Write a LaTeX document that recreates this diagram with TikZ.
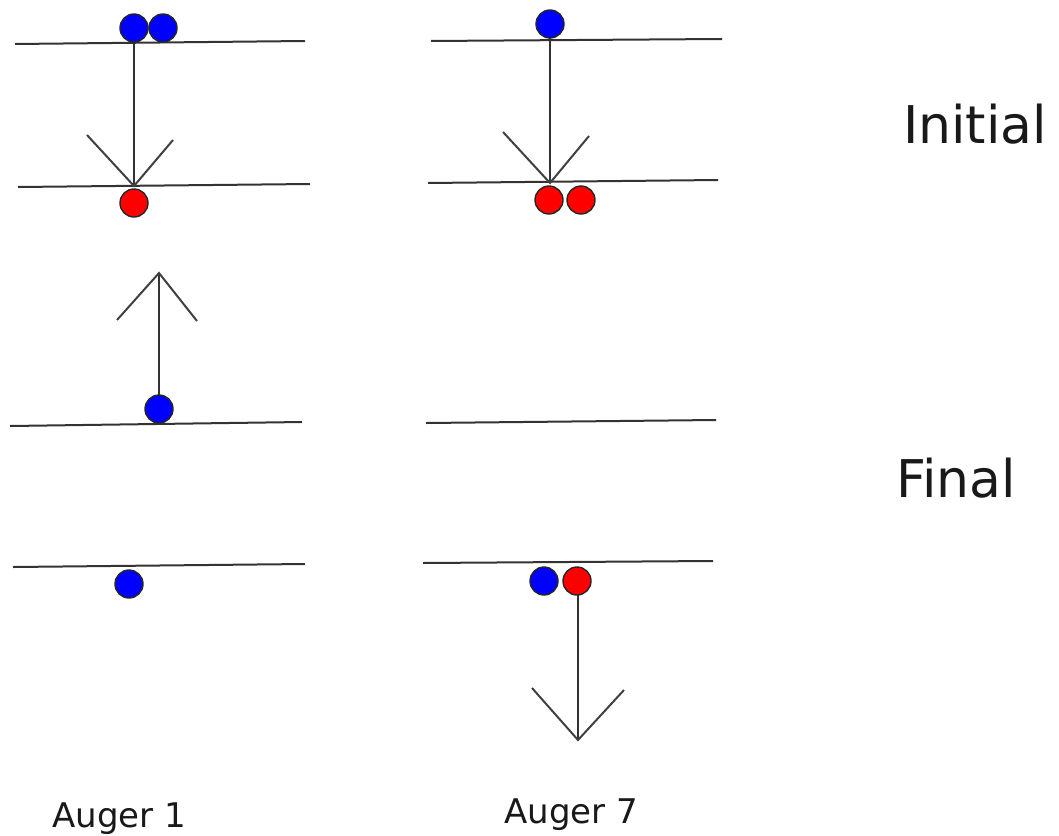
\documentclass[tikz,border=0pt]{standalone}
\usepackage{fontspec}
\setmainfont{DejaVu Sans}
\begin{document}
\begin{tikzpicture}[x=1pt,y=-1pt,
  level/.style={line width=2pt, draw=black!80},
  shaft/.style={line width=2pt, draw=black!80},
  barb/.style={line width=2pt, draw=black!75},
  particle/.style={circle, draw=black!85, line width=1.4pt, minimum size=28pt, inner sep=0pt},
  electron/.style={particle, fill=blue},
  hole/.style={particle, fill=red},
  stage/.style={anchor=base west, inner sep=0pt, font=\fontsize{52}{52}\selectfont, text=black!90},
  caption/.style={anchor=base west, inner sep=0pt, font=\fontsize{34}{34}\selectfont, text=black!90}]
\useasboundingbox (0,0) rectangle (1059,835);

% energy levels, Auger 1
\draw[level] (15,44) -- (305,41);
\draw[level] (18,187) -- (310,184);
\draw[level] (10,426) -- (302,422);
\draw[level] (13,567) -- (305,564);
% energy levels, Auger 7
\draw[level] (431,41) -- (722,39);
\draw[level] (428,183) -- (718,180);
\draw[level] (426,423) -- (716,420);
\draw[level] (423,563) -- (713,561);

% arrow tips and free ends
\coordinate (t1) at (134,186);
\coordinate (t2) at (159,273);
\coordinate (t3) at (550,183);
\coordinate (t4) at (578,740);

% transitions (drawn below the particles)
\draw[shaft] (134,28) -- (t1);
\draw[barb] (87,135) -- (t1) -- (173,140);
\draw[shaft] (159,409) -- (t2);
\draw[barb] (117,320) -- (t2) -- (197,321);
\draw[shaft] (550,24) -- (t3);
\draw[barb] (503,132) -- (t3) -- (589,136);
\draw[shaft] (578,581) -- (t4);
\draw[barb] (532,688) -- (t4) -- (624,690);

% particles, Auger 1
\node[electron] (a1e1) at (134,28) {};
\node[electron] (a1e2) at (163,28) {};
\node[hole] (a1h1) at (134,203) {};
\node[electron] (a1e3) at (159,409) {};
\node[electron] (a1e4) at (129,584) {};
% particles, Auger 7
\node[electron] (a7e1) at (550,24) {};
\node[hole] (a7h1) at (549,200) {};
\node[hole] (a7h2) at (581,200) {};
\node[electron] (a7e2) at (544,581) {};
\node[hole] (a7h3) at (577,581) {};

% labels
\node[stage] (initial) at (903,143) {Initial};
\node[stage] (final) at (896,497) {Final};
\node[caption] (auger1) at (52,827) {Auger 1};
\node[caption] (auger7) at (504,823) {Auger 7};
\end{tikzpicture}
\end{document}
